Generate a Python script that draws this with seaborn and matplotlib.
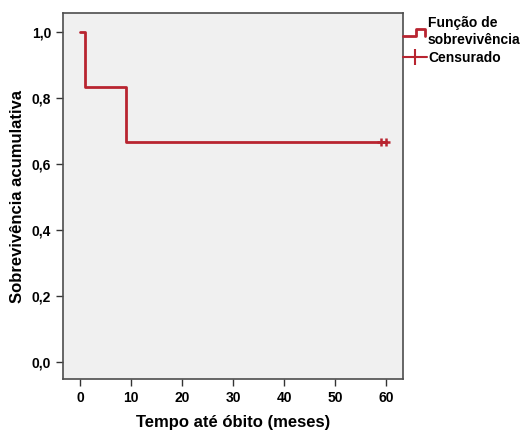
import numpy as np
import pandas as pd
import matplotlib
matplotlib.use("Agg")
import matplotlib.pyplot as plt
import seaborn as sns
from matplotlib.lines import Line2D
from matplotlib.legend_handler import HandlerBase

# Kaplan-Meier step data
tempo = [0, 1, 9, 60]
sobrevivencia = [1.0, 0.8333, 0.6667, 0.6667]
censura_tempo = [59, 60]
censura_sobrev = [0.6667, 0.6667]
x_ticks = [0, 10, 20, 30, 40, 50, 60]
y_ticks = [0.0, 0.2, 0.4, 0.6, 0.8, 1.0]

cor = "#b82430"

sns.set_style("ticks")
plt.rcParams["font.family"] = ["Liberation Sans", "DejaVu Sans"]
plt.rcParams["text.color"] = "black"
plt.rcParams["axes.labelcolor"] = "black"

df = pd.DataFrame({"t": tempo, "s": sobrevivencia})
cens = pd.DataFrame({"t": censura_tempo, "s": censura_sobrev})

fig = plt.figure(figsize=(5.22, 4.32), dpi=100)
ax = fig.add_axes([0.1207, 0.1227, 0.652, 0.847])
ax.set_facecolor("#f0f0f0")

sns.lineplot(data=df, x="t", y="s", drawstyle="steps-post", color=cor,
             linewidth=2, ax=ax)
sns.scatterplot(data=cens, x="t", y="s", marker="+", s=40, color=cor,
                linewidth=1.8, ax=ax, zorder=3)

ax.set_xlim(-3.33, 63.33)
ax.set_ylim(-0.0515, 1.0576)
ax.set_xticks(x_ticks)
ax.set_yticks(y_ticks)
ax.set_xticklabels([str(v) for v in x_ticks], fontweight="bold", fontsize=10)
ax.set_yticklabels([f"{v:.1f}".replace(".", ",") for v in y_ticks],
                   fontweight="bold", fontsize=10)
ax.tick_params(direction="out", length=5, width=1, colors="#333333",
               labelcolor="black")
for sp in ax.spines.values():
    sp.set_color("#4d4d4d")
    sp.set_linewidth(1.2)

ax.set_xlabel("Tempo até óbito (meses)", fontweight="bold", fontsize=12,
              labelpad=7)
ax.set_ylabel("Sobrevivência acumulativa", fontweight="bold", fontsize=12,
              labelpad=5)


class StepHandler(HandlerBase):
    def create_artists(self, legend, orig_handle, xdescent, ydescent,
                       width, height, fontsize, trans):
        x0 = -xdescent
        y_lo = -ydescent + height * 0.15
        y_hi = -ydescent + height * 0.85
        xs = [x0, x0 + width * 0.55, x0 + width * 0.55, x0 + width * 0.92,
              x0 + width * 0.92]
        ys = [y_lo, y_lo, y_hi, y_hi, y_lo]
        ln = Line2D(xs, ys, color=cor, linewidth=2, transform=trans)
        return [ln]


h_step = Line2D([], [], color=cor)
h_cens = Line2D([], [], color=cor, linewidth=1.5, marker="|",
                markersize=11, markeredgewidth=1.5)
fig.legend([h_step, h_cens], ["Função de\nsobrevivência", "Censurado"],
           handler_map={h_step: StepHandler()},
           loc="upper left", bbox_to_anchor=(0.772, 0.962),
           frameon=False, prop={"weight": "bold", "size": 10},
           handlelength=1.75, handletextpad=0.05, borderpad=0,
           labelspacing=0.3, borderaxespad=0)

fig.savefig("out.png", dpi=100)
